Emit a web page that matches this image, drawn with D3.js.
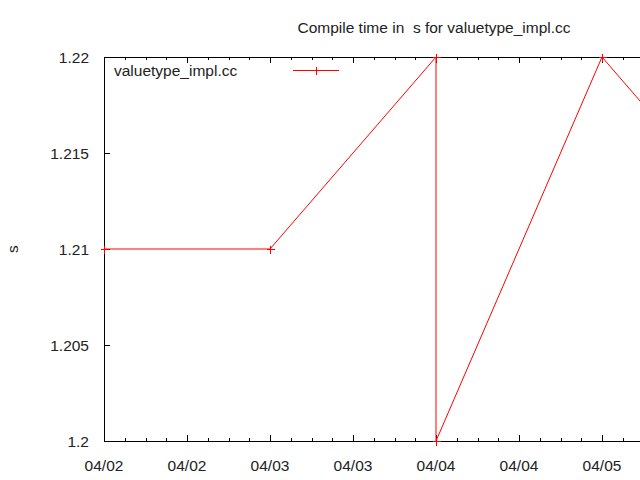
<!DOCTYPE html>
<html>
<head>
<meta charset="utf-8">
<script src="https://cdn.jsdelivr.net/npm/d3@7"></script>
<style>
  body { margin: 0; background: #fff; }
  svg text { font-family: "Liberation Sans", Arial, sans-serif; font-size: 15.5px; fill: #222; }
</style>
</head>
<body>
<div id="chart"></div>
<script>
// data
var times = ["2016-04-02T00:00", "2016-04-03T00:00", "2016-04-04T00:00", "2016-04-04T00:00", "2016-04-05T00:00", "2016-04-06T00:00"];
var values = [1.21, 1.21, 1.22, 1.2, 1.22, 1.21];
var yTicks = [1.2, 1.205, 1.21, 1.215, 1.22];
var xDomain = ["2016-04-02T00:00", "2016-04-06T00:00"];
var seriesName = "valuetype_impl.cc";
var title = "Compile time in  s for valuetype_impl.cc";

var parse = d3.timeParse("%Y-%m-%dT%H:%M");
var data = times.map(function(t, i) { return {t: parse(t), v: values[i]}; });

var width = 640, height = 480;
var margin = {top: 57, left: 104, bottom: 39};
var plotRight = 768;

var x = d3.scaleTime()
    .domain(xDomain.map(parse))
    .range([margin.left, plotRight]);
var y = d3.scaleLinear()
    .domain([1.2, 1.22])
    .range([height - margin.bottom, margin.top]);

var svg = d3.select("#chart").append("svg")
    .attr("width", width)
    .attr("height", height);

var major = d3.timeHour.every(12).range(x.domain()[0], x.domain()[1]);
var minor = d3.timeHour.every(3).range(x.domain()[0], x.domain()[1]);

var y0 = y.range()[0], y1 = y.range()[1];
var g = svg.append("g").attr("shape-rendering", "crispEdges");

// minor and major ticks on bottom and top
minor.forEach(function(d) {
  var px = Math.round(x(d)) + 0.5;
  var len = (d.getHours() % 12 === 0) ? 6 : 3;
  g.append("line").attr("x1", px).attr("x2", px).attr("y1", y0).attr("y2", y0 - len).attr("stroke", "#000");
  g.append("line").attr("x1", px).attr("x2", px).attr("y1", y1).attr("y2", y1 + len).attr("stroke", "#000");
});

yTicks.forEach(function(v) {
  var py = Math.round(y(v)) + 0.5;
  g.append("line").attr("x1", margin.left).attr("x2", margin.left + 6).attr("y1", py).attr("y2", py).attr("stroke", "#000");
  svg.append("text")
    .attr("x", 89).attr("y", py + 5.5)
    .style("text-anchor", "end")
    .text(d3.format("")(v));
});

var fmt = d3.timeFormat("%m/%d");
major.filter(function(d) { return x(d) < width - 20; }).forEach(function(d) {
  svg.append("text")
    .attr("x", x(d)).attr("y", 471)
    .style("text-anchor", "middle")
    .text(fmt(d));
});

// border
g.append("path")
  .attr("d", "M" + (plotRight + 0.5) + "," + (y1 + 0.5) + "H" + (margin.left + 0.5) + "V" + (y0 + 0.5) + "H" + (plotRight + 0.5))
  .attr("fill", "none").attr("stroke", "#000");

// title and y label
svg.append("text")
  .attr("x", 434).attr("y", 33)
  .style("text-anchor", "middle")
  .style("white-space", "pre")
  .attr("xml:space", "preserve")
  .text(title);

svg.append("text")
  .attr("transform", "translate(18,249) rotate(-90)")
  .style("text-anchor", "middle")
  .text("s");

// series
svg.append("clipPath").attr("id", "clip")
  .append("rect")
  .attr("x", margin.left).attr("y", y1)
  .attr("width", plotRight - margin.left).attr("height", y0 - y1);

var line = d3.line()
  .x(function(d) { return x(d.t); })
  .y(function(d) { return y(d.v); });

svg.append("path")
  .datum(data)
  .attr("clip-path", "url(#clip)")
  .attr("d", line)
  .attr("fill", "none")
  .attr("stroke", "#ff0000")
  .attr("stroke-width", 1);

function plus(sel, cx, cy) {
  sel.append("path")
    .attr("d", "M" + (cx - 4) + "," + cy + "H" + (cx + 4) + "M" + cx + "," + (cy - 4) + "V" + (cy + 4))
    .attr("stroke", "#ff0000")
    .attr("fill", "none")
    .attr("shape-rendering", "crispEdges");
}

data.forEach(function(d) {
  var cx = Math.round(x(d.t)) + 0.5, cy = Math.round(y(d.v)) + 0.5;
  if (cx <= plotRight) plus(svg, cx, cy);
});

// legend
svg.append("text")
  .attr("x", 114).attr("y", 76)
  .text(seriesName);
svg.append("line")
  .attr("x1", 293).attr("x2", 339).attr("y1", 70.5).attr("y2", 70.5)
  .attr("stroke", "#ff0000")
  .attr("shape-rendering", "crispEdges");
plus(svg, 316.5, 70.5);
</script>
</body>
</html>
